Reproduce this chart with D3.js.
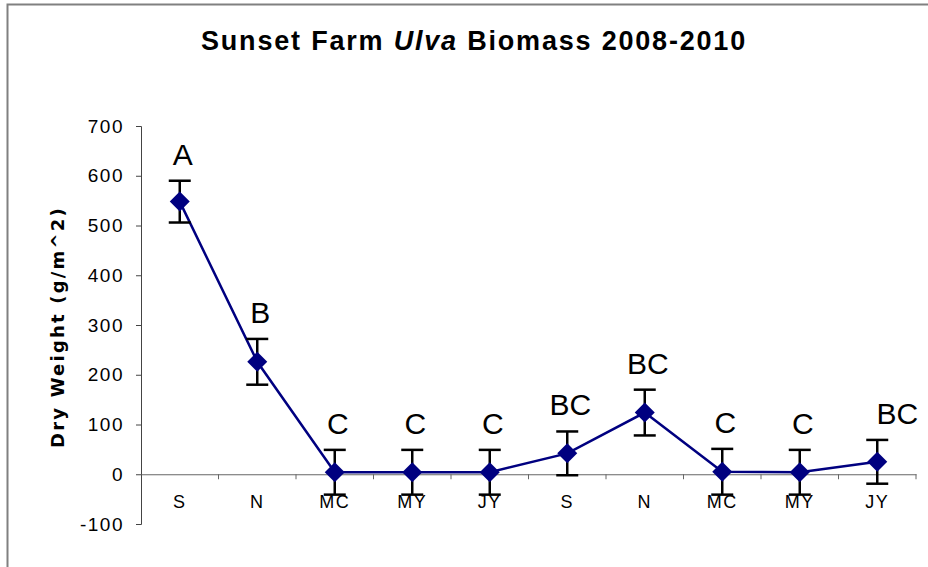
<!DOCTYPE html>
<html><head><meta charset="utf-8">
<script src="https://cdn.jsdelivr.net/npm/d3@7"></script>
<style>body{margin:0;background:#fff}svg{display:block}text{font-family:"Liberation Sans",Arial,sans-serif}</style>
</head><body><svg id="c" width="928" height="567"></svg>
<script>
const categories = ["S","N","MC","MY","JY","S","N","MC","MY","JY"];
const values = [548, 226, 4, 4, 4, 42, 124, 5, 4, 25];
const errors = [42, 46, 45, 45, 45, 44, 46, 46, 45, 44];
const groups = ["A","B","C","C","C","BC","BC","C","C","BC"];
const yTicks = [-100, 0, 100, 200, 300, 400, 500, 600, 700];

const svg = d3.select("#c");
svg.append("rect").attr("x",7.5).attr("y",4.5).attr("width",1000).attr("height",700)
  .attr("fill","none").attr("stroke","#808080").attr("stroke-width",2);

const L = 141, R = 916, T = 126, B = 524;
const x = d3.scaleBand().domain(d3.range(categories.length)).range([L, R]);
const y = d3.scaleLinear().domain([-100, 700]).range([B, T]);

// y axis
const ya = svg.append("g").attr("transform",`translate(${L},0)`)
  .call(d3.axisLeft(y).tickValues(yTicks).tickFormat(d=>String(d)).tickSize(5).tickPadding(12));
ya.select(".domain").attr("stroke","#444");
ya.selectAll(".tick line").attr("stroke","#444");
ya.selectAll("text").attr("font-size",19).attr("letter-spacing","1.5px").attr("fill","#000");

// x axis at zero
const xa = svg.append("g").attr("transform",`translate(0,${y(0)})`)
  .call(d3.axisBottom(x).tickFormat(i=>categories[i]).tickSize(0).tickPadding(21));
xa.select(".domain").attr("stroke","#666");
xa.selectAll("text").attr("font-size",18).attr("letter-spacing","1.5px").attr("fill","#000");
// boundary ticks
const bounds = d3.range(1, categories.length + 1).map(i => L + i * x.step());
svg.append("g").selectAll("line").data(bounds).join("line")
  .attr("x1",d=>d).attr("x2",d=>d).attr("y1",y(0)).attr("y2",y(0)+5)
  .attr("stroke","#666");

const cx = i => x(i) + x.bandwidth()/2;

// line
svg.append("path").datum(values)
  .attr("d", d3.line().x((d,i)=>cx(i)).y(d=>y(d)))
  .attr("fill","none").attr("stroke","#000080").attr("stroke-width",2.5);

// error bars
const eb = svg.append("g").attr("stroke","#000").attr("stroke-width",2.5);
values.forEach((v,i)=>{
  const X = cx(i), hi = y(v+errors[i]), lo = y(v-errors[i]);
  eb.append("line").attr("x1",X).attr("x2",X).attr("y1",hi).attr("y2",lo);
  eb.append("line").attr("x1",X-11).attr("x2",X+11).attr("y1",hi).attr("y2",hi);
  eb.append("line").attr("x1",X-11).attr("x2",X+11).attr("y1",lo).attr("y2",lo);
});

// markers
svg.append("g").selectAll("path").data(values).join("path")
  .attr("transform",(d,i)=>`translate(${cx(i)},${y(d)})`)
  .attr("d","M0,-10L10,0L0,10L-10,0Z").attr("fill","#000080");

// group letters
svg.append("g").selectAll("text").data(groups).join("text")
  .attr("x",(d,i)=>cx(i)+ (i===categories.length-1?20:3))
  .attr("y",(d,i)=>y(values[i]+errors[i]) - 16)
  .attr("text-anchor","middle").attr("font-size",30).attr("fill","#000").text(d=>d);

// title
const t = svg.append("text").attr("x",474).attr("y",50).attr("text-anchor","middle")
  .attr("font-size",27).attr("font-weight","bold").attr("letter-spacing","1.8px");
t.append("tspan").text("Sunset Farm ");
t.append("tspan").attr("font-style","italic").text("Ulva");
t.append("tspan").text(" Biomass 2008-2010");

// y title
svg.append("text").attr("transform","translate(64,327) rotate(-90)")
  .attr("text-anchor","middle").attr("font-size",18).attr("font-weight","bold")
  .attr("letter-spacing","2.2px").style("font-family","'DejaVu Sans',sans-serif")
  .text("Dry Weight (g/m^2)");
</script></body></html>
